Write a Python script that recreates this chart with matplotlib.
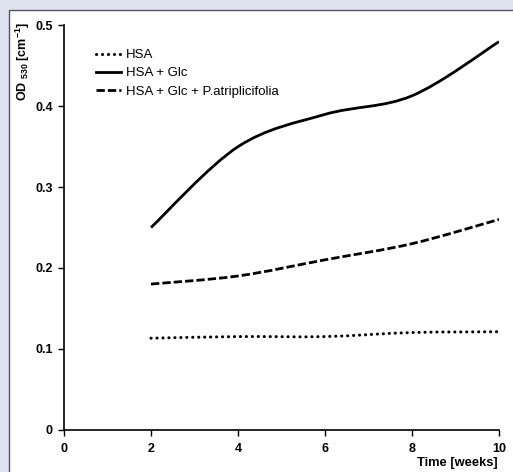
import matplotlib
matplotlib.use("Agg")
import matplotlib.pyplot as plt
from matplotlib.path import Path
from matplotlib.patches import PathPatch, Rectangle
from matplotlib.lines import Line2D
import numpy as np

weeks = [2, 4, 6, 8, 10]
hsa = [0.113, 0.115, 0.115, 0.120, 0.121]
hsa_glc = [0.25, 0.35, 0.39, 0.413, 0.48]
hsa_glc_pa = [0.18, 0.19, 0.21, 0.23, 0.26]
labels = ["HSA", "HSA + Glc", "HSA + Glc + P.atriplicifolia"]
xticks = [0, 2, 4, 6, 8, 10]
yticks = [0, 0.1, 0.2, 0.3, 0.4, 0.5]
yticklabels = ["0", "0.1", "0.2", "0.3", "0.4", "0.5"]

plt.rcParams['font.family'] = ['Liberation Sans', 'DejaVu Sans']
plt.rcParams['mathtext.fontset'] = 'custom'
plt.rcParams['mathtext.rm'] = 'Liberation Sans:bold'
plt.rcParams['mathtext.it'] = 'Liberation Sans:bold'
plt.rcParams['mathtext.bf'] = 'Liberation Sans:bold'

fig = plt.figure(figsize=(5.13, 4.72), dpi=100)
fig.patch.set_facecolor('#dfe2f1')
fig.patches.append(Rectangle((9/513, -0.01), 1.0, 1 - 10/472 + 0.01, transform=fig.transFigure,
                             facecolor='white', edgecolor='#555555', lw=1.0, zorder=-10))

ax = fig.add_axes([64/513, 1 - 429.5/472, (499 - 64)/513, (429.5 - 25.5)/472])
ax.set_facecolor('none')
ax.set_zorder(5)


def smooth_path(x, y):
    pts = np.column_stack([x, y]).astype(float)
    n = len(pts)
    verts = [pts[0]]
    codes = [Path.MOVETO]
    for i in range(n - 1):
        p0 = pts[i - 1] if i > 0 else pts[i]
        p1 = pts[i]
        p2 = pts[i + 1]
        p3 = pts[i + 2] if i + 2 < n else pts[i + 1]
        c1 = p1 + (p2 - p0) / 6.0
        c2 = p2 - (p3 - p1) / 6.0
        verts += [c1, c2, p2]
        codes += [Path.CURVE4] * 3
    return Path(verts, codes)


dash_styles = [(0, (0.05, 1.9)), '-', (0, (3.0, 1.1))]
caps = ['round', 'butt', 'butt']
widths = [2.2, 2.0, 2.0]
series = [hsa, hsa_glc, hsa_glc_pa]
handles = []
for s, ls, cap, w, lab in zip(series, dash_styles, caps, widths, labels):
    patch = PathPatch(smooth_path(weeks, s), facecolor='none', edgecolor='black',
                      lw=w, linestyle=ls, capstyle=cap)
    ax.add_patch(patch)
    handles.append(Line2D([], [], color='black', lw=w, label=lab, linestyle=ls,
                          dash_capstyle=cap))

ax.set_xlim(0, 10)
ax.set_ylim(0, 0.5)
ax.set_xticks(xticks)
ax.set_xticklabels([str(t) for t in xticks], fontweight='bold', fontsize=9)
ax.set_yticks(yticks)
ax.set_yticklabels(yticklabels, fontweight='bold', fontsize=9)
ax.tick_params(axis='x', direction='out', length=4, width=1, pad=6)
ax.tick_params(axis='y', direction='out', length=4, width=1, pad=4)
for sp in ['top', 'right']:
    ax.spines[sp].set_visible(False)
for sp in ['left', 'bottom']:
    ax.spines[sp].set_linewidth(1.2)

ax.text(0.997, -0.068, 'Time [weeks]', transform=ax.transAxes, ha='right', va='top',
        fontweight='bold', fontsize=9.3)
ax.set_ylabel('OD $_{530}$ [cm$^{-1}$]', fontweight='bold', fontsize=9)
ax.yaxis.set_label_coords(-0.074, 0.912)

leg = ax.legend(handles=handles, loc='upper left', bbox_to_anchor=(0.062, 0.955),
                frameon=False, fontsize=9.5, handlelength=1.85, handletextpad=0.38,
                labelspacing=0.45, borderaxespad=0)

fig.savefig('out.png', dpi=100, facecolor=fig.get_facecolor())
